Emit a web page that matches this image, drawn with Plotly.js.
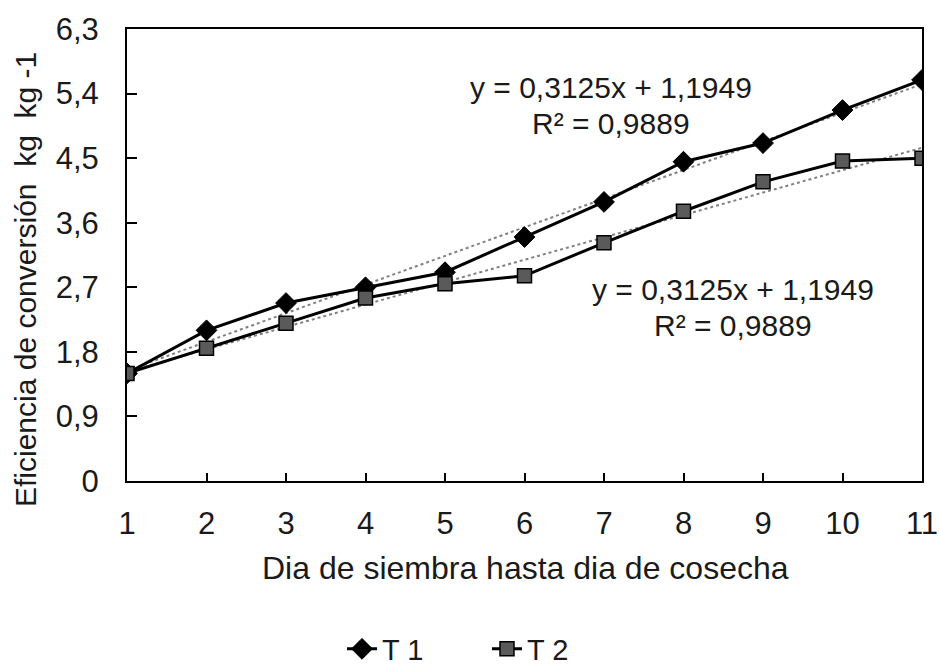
<!DOCTYPE html>
<html>
<head>
<meta charset="utf-8">
<script src="https://cdn.plot.ly/plotly-3.0.1.min.js"></script>
<style>html,body{margin:0;padding:0;background:#fff;}#chart{width:939px;height:666px;}</style>
</head>
<body>
<div id="chart"></div>
<script>
const days = [1, 2, 3, 4, 5, 6, 7, 8, 9, 10, 11];
const t1 = [1.50, 2.10, 2.48, 2.70, 2.91, 3.40, 3.89, 4.45, 4.71, 5.17, 5.59];
const t2 = [1.50, 1.85, 2.20, 2.55, 2.75, 2.86, 3.32, 3.76, 4.17, 4.46, 4.50];
const yTickVals = [0, 0.9, 1.8, 2.7, 3.6, 4.5, 5.4, 6.3];
const yTickText = ["0", "0,9", "1,8", "2,7", "3,6", "4,5", "5,4", "6,3"];
const seriesNames = ["T 1", "T 2"];
const eqLine = "y = 0,3125x + 1,1949";
const r2Line = "R² = 0,9889";
const xTitle = "Dia de siembra hasta dia de cosecha";
const yTitle = "Eficiencia de conversión  kg  kg -1";

function linfit(x, y) {
  const n = x.length;
  const mx = x.reduce((a, b) => a + b, 0) / n;
  const my = y.reduce((a, b) => a + b, 0) / n;
  let sxy = 0, sxx = 0;
  for (let i = 0; i < n; i++) { sxy += (x[i] - mx) * (y[i] - my); sxx += (x[i] - mx) ** 2; }
  const b = sxy / sxx, a = my - b * mx;
  return x.map(v => a + b * v);
}

const W = 939, H = 666, L = 127, R = 17, T = 29, B = 185;
const pw = W - L - R, ph = H - T - B;
const px = v => (v - L) / pw;
const py = v => (H - B - v) / ph;

const font = "Liberation Sans, Arial, sans-serif";
const col = '#1a1a1a';
const fs = 31;
const traces = [
  {x: days, y: linfit(days, t1), mode: 'lines', line: {color: '#808080', width: 2, dash: 'dot'}, showlegend: false, hoverinfo: 'skip'},
  {x: days, y: linfit(days, t2), mode: 'lines', line: {color: '#808080', width: 2, dash: 'dot'}, showlegend: false, hoverinfo: 'skip'},
  {x: days, y: t1, name: seriesNames[0], mode: 'lines+markers', line: {color: '#000', width: 3},
   marker: {symbol: 'diamond', size: 16, color: '#000', line: {color: '#000', width: 1}}},
  {x: days, y: t2, name: seriesNames[1], mode: 'lines+markers', line: {color: '#000', width: 3},
   marker: {symbol: 'square', size: 14, color: '#5a5a5a', line: {color: '#000', width: 1.5}}}
];

function ann(text, x, y, size, extra) {
  return Object.assign({x: px(x), y: py(y), xref: 'paper', yref: 'paper', text: text, showarrow: false,
    xanchor: 'center', yanchor: 'middle', font: {family: font, size: size, color: col}}, extra || {});
}

const layout = {
  width: W, height: H,
  margin: {l: L, r: R, t: T, b: B, autoexpand: false},
  paper_bgcolor: '#fff', plot_bgcolor: '#fff',
  font: {family: font, size: fs, color: col},
  showlegend: true,
  legend: {orientation: 'h', x: px(487), xanchor: 'center', y: py(649), yanchor: 'middle',
           font: {family: font, size: 29, color: col}, bgcolor: 'rgba(0,0,0,0)', entrywidth: 100},
  xaxis: {range: [1, 11], tickvals: days, ticks: 'inside', ticklen: 8, tickwidth: 2, tickcolor: '#000',
          showline: true, linecolor: '#000', linewidth: 2, mirror: true, showgrid: false, zeroline: false,
          automargin: false, ticklabelstandoff: 14,
          tickfont: {family: font, size: fs, color: col}},
  yaxis: {range: [0, 6.3], tickvals: yTickVals, ticktext: yTickText, ticks: 'inside', ticklen: 10, tickwidth: 2, tickcolor: '#000',
          showline: true, linecolor: '#000', linewidth: 2, mirror: true, showgrid: false, zeroline: false,
          automargin: false, ticklabelstandoff: 20,
          tickfont: {family: font, size: fs, color: col}},
  annotations: [
    ann(eqLine, 611, 87, 30),
    ann(r2Line, 611, 123, 30),
    ann(eqLine, 733, 289, 30),
    ann(r2Line, 733, 325, 30),
    ann(xTitle, 525, 568, 32),
    ann(yTitle, 25, 280, 30, {textangle: -90})
  ]
};

Plotly.newPlot('chart', traces, layout, {displayModeBar: false, staticPlot: true});
</script>
</body>
</html>
